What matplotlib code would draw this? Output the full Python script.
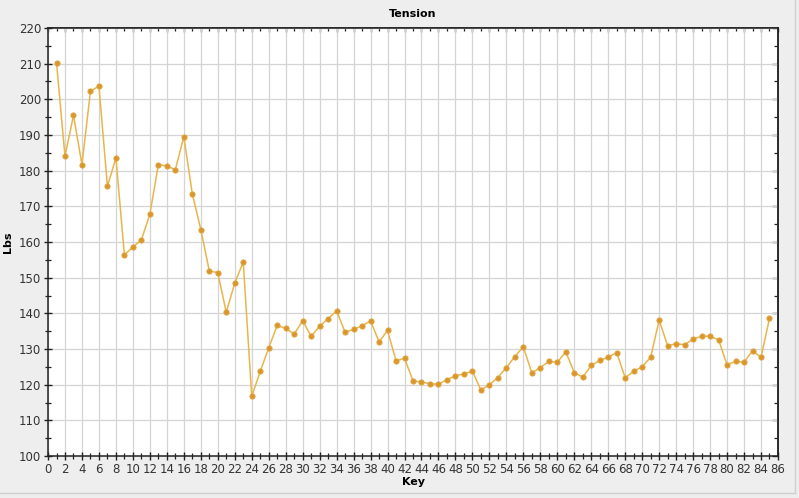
import matplotlib.pyplot as plt
import numpy as np
from matplotlib.lines import Line2D

# Tension per key
keys = list(range(1, 86))
lbs = [210.3, 184.0, 195.5, 181.7, 202.3, 203.7, 175.6, 183.6, 156.4, 158.6,
       160.6, 167.8, 181.7, 181.3, 180.3, 189.5, 173.5, 163.5, 151.9, 151.4,
       140.3, 148.5, 154.4, 116.7, 123.7, 130.3, 136.6, 135.8, 134.2, 137.9,
       133.6, 136.4, 138.5, 140.7, 134.7, 135.5, 136.5, 137.9, 132.0, 135.2,
       126.7, 127.4, 121.1, 120.7, 120.3, 120.1, 121.4, 122.5, 123.0, 123.8,
       118.5, 120.0, 122.0, 124.8, 127.9, 130.6, 123.3, 124.8, 126.5, 126.3,
       129.2, 123.4, 122.1, 125.4, 126.8, 127.7, 129.0, 121.9, 123.8, 125.0,
       127.7, 138.1, 130.9, 131.5, 131.2, 132.8, 133.6, 133.6, 132.6, 125.6,
       126.5, 126.3, 129.5, 127.7, 138.6]

fig = plt.figure(figsize=(7.99, 4.98), dpi=100, facecolor='#eeeeee')
ax = fig.add_axes([0.0601, 0.0843, 0.9136, 0.8595])
ax.set_facecolor('white')

ax.plot(keys, lbs, '-', color='#e9b54a', lw=1.1, zorder=3)
ax.plot(keys, lbs, 'o', color='#d9962e', ms=3.8, mec='#e0a53c', mew=0.6, zorder=4)

ax.set_xlim(0, 86)
ax.set_ylim(100, 220)
xmaj = np.arange(0, 87, 2)
xmin = np.arange(0, 87, 1)
ymaj = np.arange(100, 221, 10)
ymin = np.arange(100, 221, 5)
ax.set_xticks(xmaj)
ax.set_xticks(xmin, minor=True)
ax.set_yticks(ymaj)
ax.set_yticks(ymin, minor=True)
ax.grid(True, which='major', color='#d4d4d4', lw=0.9, zorder=0)

ax.tick_params(axis='both', which='major', direction='inout', length=6, width=1,
               labelsize=8.5, labelcolor='#333333', color='#222222')
ax.tick_params(axis='both', which='minor', direction='inout', length=4, width=0.9,
               color='#222222')
ax.tick_params(axis='x', which='major', pad=2)
ax.tick_params(axis='y', which='major', pad=2)

# inward ticks on top and right
top = ax.secondary_xaxis('top')
top.set_xticks(xmaj)
top.set_xticks(xmin, minor=True)
top.tick_params(which='major', direction='in', length=3, width=1, labeltop=False, color='#222222')
top.tick_params(which='minor', direction='in', length=2, width=0.9, color='#222222')
right = ax.secondary_yaxis('right')
right.set_yticks(ymaj)
right.set_yticks(ymin, minor=True)
right.tick_params(which='major', direction='in', length=4, width=1, labelright=False, color='#222222')
right.tick_params(which='minor', direction='in', length=3, width=0.9, color='#222222')
for a in (ax, top, right):
    for s in a.spines.values():
        s.set_color('#222222')
        s.set_linewidth(1.1)

ax.set_title('Tension', fontsize=8, fontweight='bold', pad=8)
ax.set_xlabel('Key', fontsize=8, fontweight='bold', labelpad=1)
ax.set_ylabel('Lbs', fontsize=8, fontweight='bold', labelpad=4)

# thin window frame at right / bottom
fig.lines.append(Line2D([0.995, 0.995], [0.01, 1.0], transform=fig.transFigure,
                        color='#cfcfcf', lw=1))
fig.lines.append(Line2D([0.0, 0.995], [0.01, 0.01], transform=fig.transFigure,
                        color='#cfcfcf', lw=1))

fig.savefig('out.png', dpi=100, facecolor=fig.get_facecolor())
